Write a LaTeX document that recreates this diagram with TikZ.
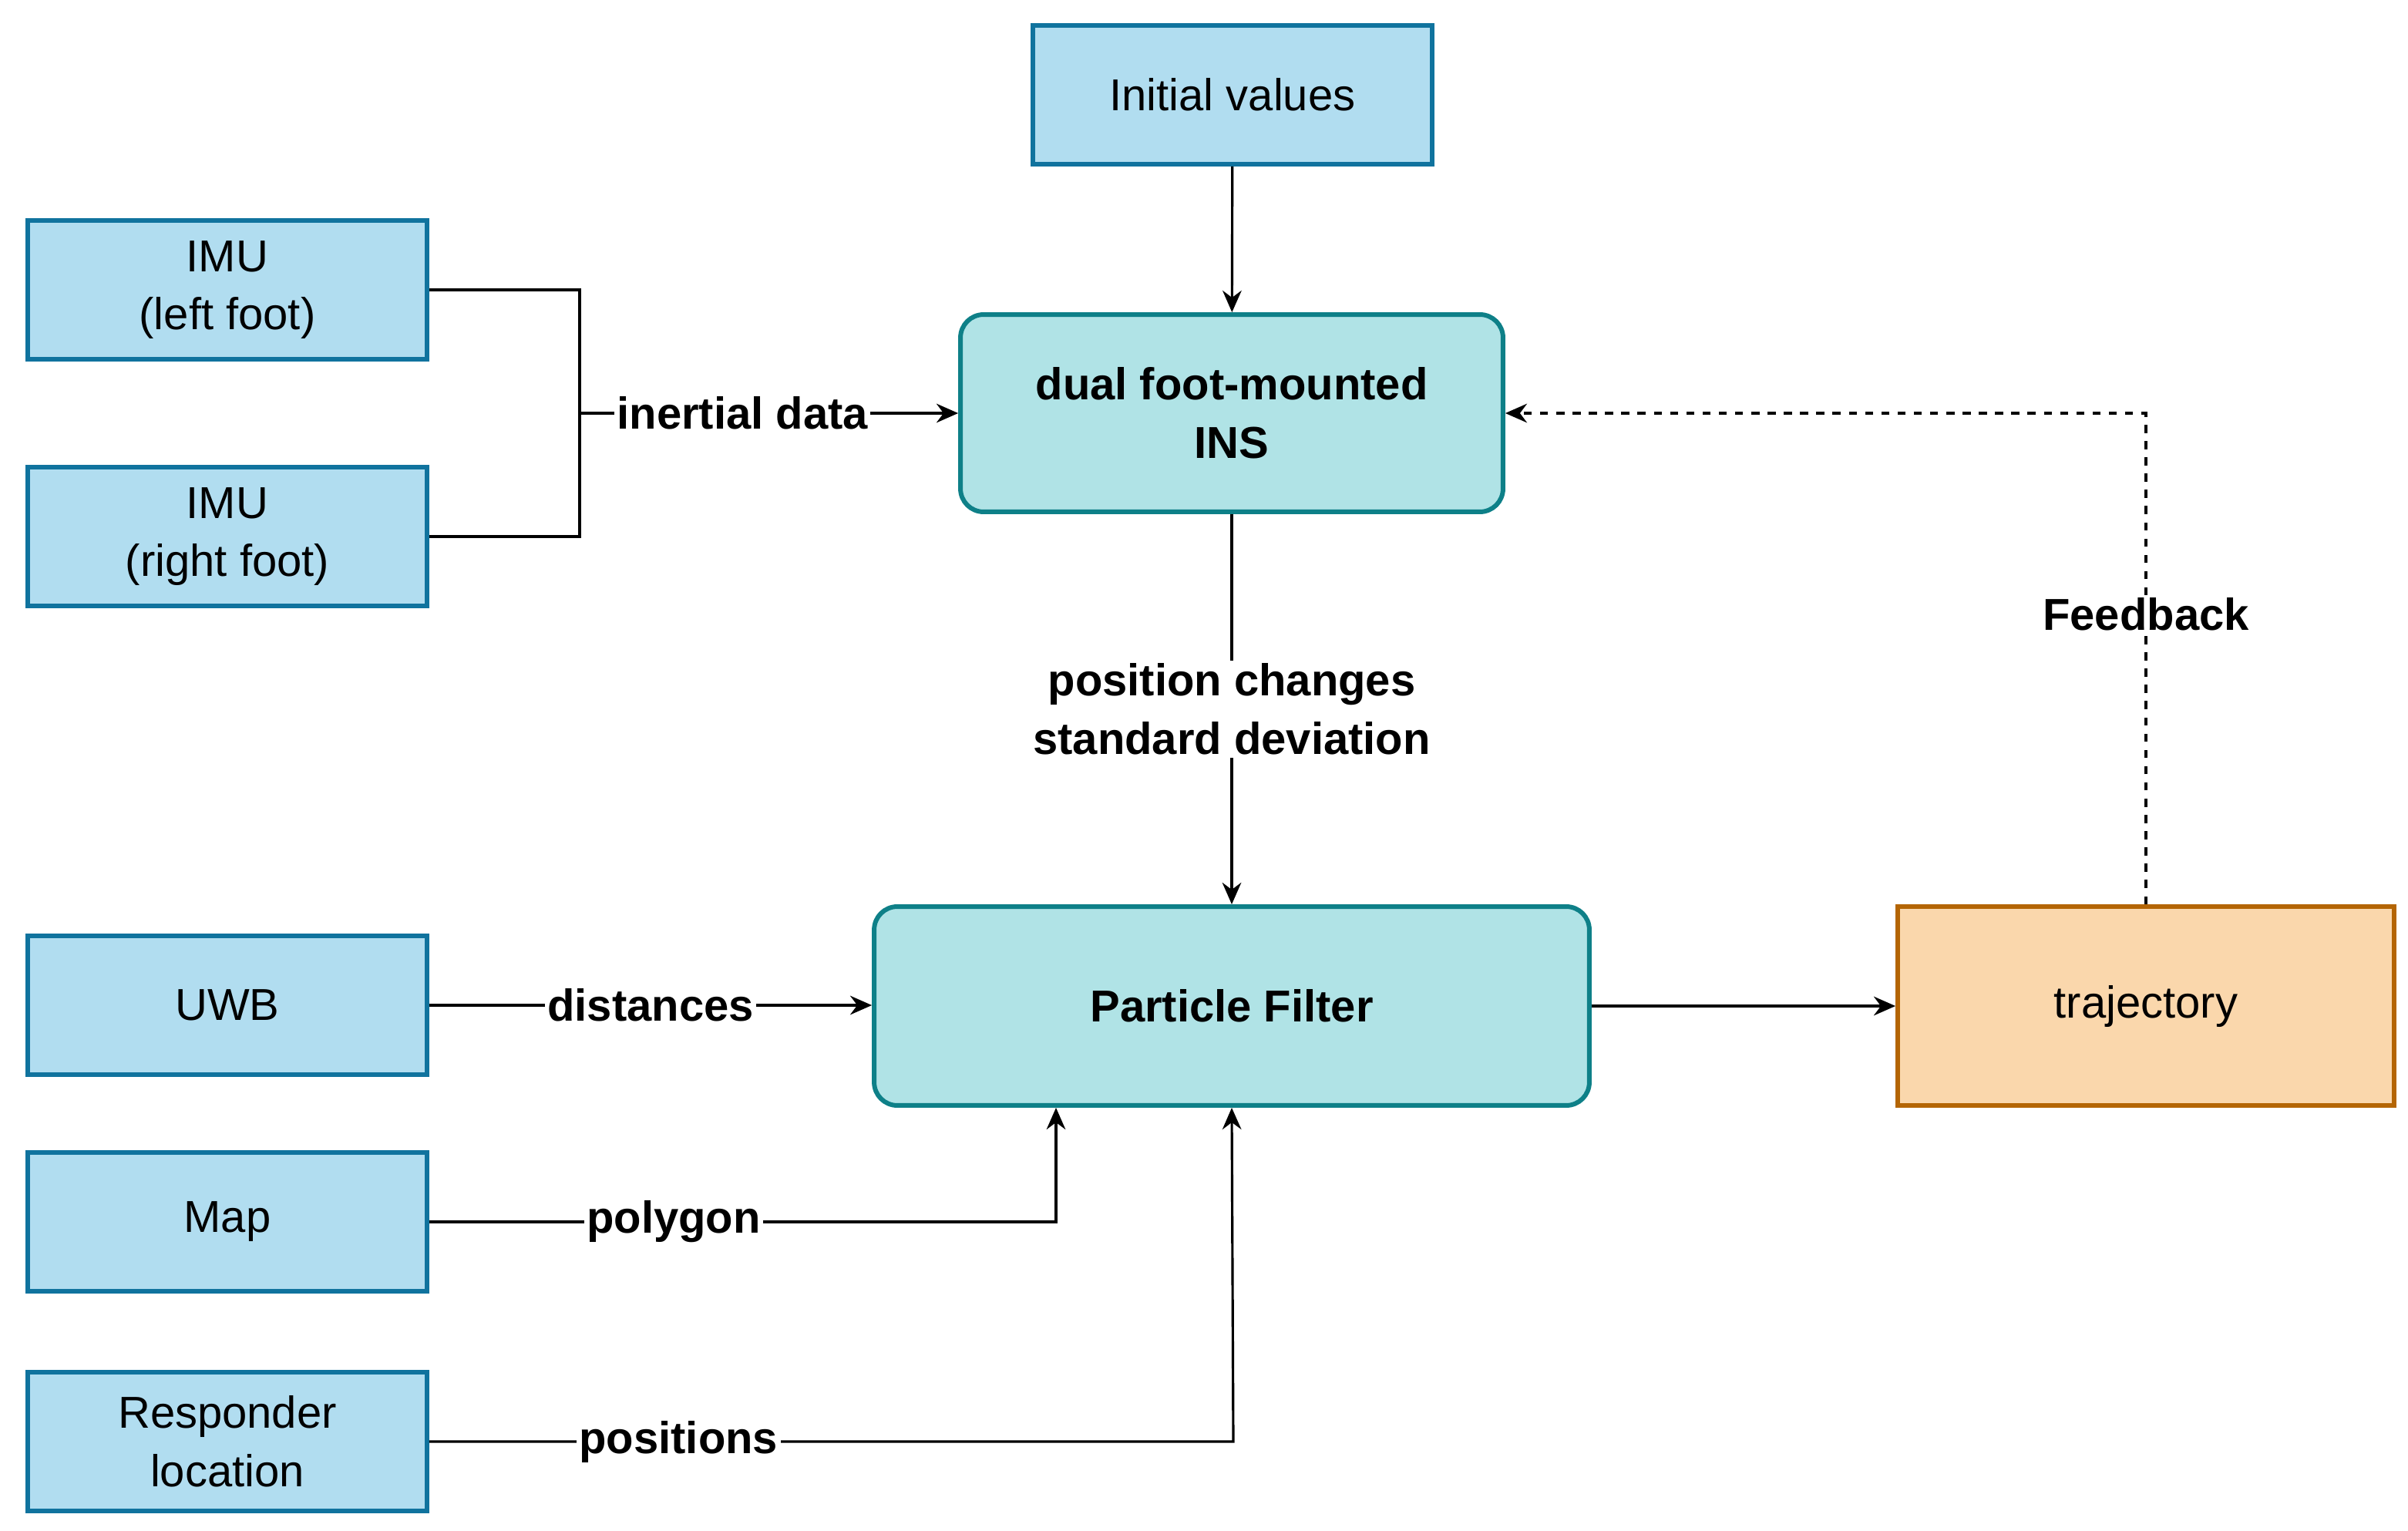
\documentclass[tikz,border=0pt]{standalone}
\usepackage{fontspec}
\setmainfont{Liberation Sans}
\usetikzlibrary{calc,arrows.meta}
\definecolor{srcfill}{HTML}{B1DDF0}
\definecolor{srcline}{HTML}{10739E}
\definecolor{procfill}{HTML}{B0E3E6}
\definecolor{procline}{HTML}{0E8088}
\definecolor{resfill}{HTML}{FAD7AC}
\definecolor{resline}{HTML}{B46504}
\begin{document}
\begin{tikzpicture}[x=0.02cm,y=-0.02cm,
  font=\fontsize{16.5}{21.5}\selectfont,
  src/.style={draw=srcline,line width=1.7pt,fill=srcfill,minimum width=5.18cm,minimum height=1.8cm,align=center,inner sep=0pt},
  proc/.style={draw=procline,line width=1.7pt,fill=procfill,rounded corners=0.3cm,align=center,font=\fontsize{16.5}{21.5}\selectfont\bfseries,inner sep=0pt},
  result/.style={draw=resline,line width=1.7pt,fill=resfill,minimum width=6.44cm,minimum height=2.58cm,inner sep=0pt},
  lbl/.style={fill=white,font=\fontsize{16.5}{21.5}\selectfont\bfseries,inner sep=1pt,align=center},
  link/.style={line width=0.9pt,-{Stealth[length=8pt,width=7pt]}}]
\useasboundingbox (0,0) rectangle (1562,993);

\node[src](init) at (799.5,61.5){Initial values};
\node[src](imul) at (147.5,188){IMU\\(left foot)};
\node[src](imur) at (147.5,348){IMU\\(right foot)};
\node[src](uwb) at (147.5,652){UWB};
\node[src](map) at (147.5,792.5){Map};
\node[src](resp) at (147.5,935){Responder\\location};
\node[proc,minimum width=7.04cm,minimum height=2.56cm](ins) at (799,268){dual foot-mounted\\INS};
\node[proc,minimum width=9.28cm,minimum height=2.58cm](pf) at (799,652.5){Particle Filter};
\node[result](traj) at (1392,652.5){trajectory};

\coordinate(merge) at (376,268);
\draw[line width=0.9pt](imul.east) -| (merge) |- (imur.east);
\draw[link](merge) -- node[lbl,pos=0.43]{inertial data} (ins.west);
\draw[link](init) -- (ins);
\draw[link](ins) -- node[lbl]{position changes\\standard deviation} (pf);
\draw[link](uwb) -- node[lbl,pos=0.5]{distances} (pf.west|-uwb);
\draw[link](map.east) -- node[lbl,pos=0.39]{polygon} (685,792.5) -- (pf.south-|685,0);
\draw[link](resp.east) -- node[lbl,pos=0.31]{positions} (800,935) -- (pf.south);
\draw[link](pf) -- (traj);
\draw[link,dashed](traj.north) -- node[lbl,pos=0.59]{Feedback} (1392,268) -- (ins.east);
\end{tikzpicture}
\end{document}
